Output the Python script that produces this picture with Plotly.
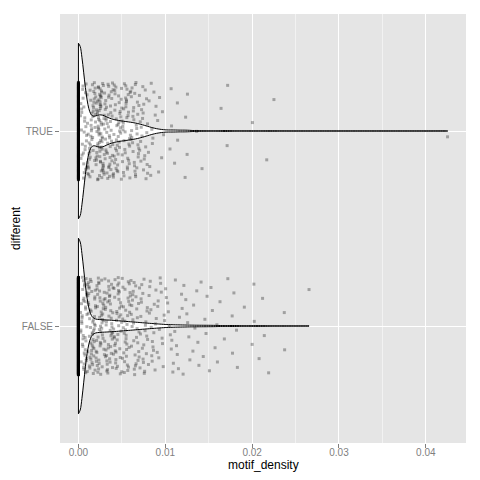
import numpy as np
import plotly.graph_objects as go

# motif_density values, in units of 1e-5
true_zero_count = 480
true_nonzero = [
    23, 57, 81, 34, 96, 62, 45, 88, 71, 29, 53, 94, 67, 38, 76, 49, 85, 61, 27, 92, 58, 73, 41, 99, 66, 84, 36, 79, 52,
    104, 187, 142, 163, 118, 195, 131, 176, 152, 109, 168, 124, 183, 147, 136, 199, 112, 159, 171, 128, 192, 145, 106,
    178, 154, 133, 166, 121, 189, 149, 115, 174, 138, 161, 197, 126, 182, 143, 108, 156, 169, 134, 191,
    203, 248, 271, 226, 294, 215, 259, 237, 282, 208, 264, 231, 289, 253, 219, 276, 242, 297, 211, 268, 234, 286, 257,
    223, 279, 245, 201, 262, 238, 291, 216, 274, 249, 227, 283, 206, 255, 269, 232, 298, 244, 213, 278, 251, 224, 287,
    261, 209, 236, 273, 295, 218, 247, 265, 229, 284, 256, 241,
    221, 233, 246, 252, 258, 263, 239, 244, 228, 267, 254, 249,
    312, 358, 387, 334, 301, 376, 349, 323, 395, 341, 368, 307, 383, 356, 329, 372, 316, 399, 345, 362, 305, 381, 337,
    319, 391, 353, 326, 374, 309, 366, 348, 331, 385, 314, 359, 397, 343, 321, 378, 303, 352, 369, 336, 392, 318, 364, 347,
    408, 453, 481, 427, 496, 442, 415, 469, 437, 402, 488, 456, 421, 474, 433, 499, 447, 412, 465, 428, 491, 458, 404,
    477, 439, 418, 483, 451, 425, 468, 494, 435, 411, 462, 486, 444, 419, 473, 431, 457,
    507, 552, 588, 524, 571, 539, 595, 513, 563, 546, 581, 529, 502, 567, 543, 598, 518, 576, 534, 559, 511, 585, 548,
    526, 592, 557, 504, 573, 537, 564, 521, 589, 545, 516, 578, 553,
    614, 657, 683, 629, 602, 671, 645, 696, 623, 662, 638, 688, 609, 675, 651, 632, 694, 617, 666, 643, 679, 606, 658,
    627, 691, 648, 612, 672, 636, 685, 655,
    712, 758, 784, 731, 796, 745, 705, 769, 723, 791, 752, 716, 778, 738, 763, 702, 787, 749, 727, 774, 741, 795, 719,
    813, 857, 832, 884, 806, 869, 845, 821, 893, 851, 838,
    912, 958, 934, 981, 923, 967,
    1054, 1067, 1072, 1107, 1139, 1142, 1228, 1234, 1251, 1255, 1361, 1423,
    1642, 1712, 1718, 2003, 2168, 2251, 4250,
]

false_zero_count = 950
false_nonzero = [
    31, 74, 52, 88, 43, 67, 95, 28, 59, 81, 46, 71, 37, 92, 63, 55, 84, 24, 78, 49, 97, 66, 35, 86, 58, 41, 75, 93, 27,
    62, 83, 51, 69, 39, 90, 56, 77, 45, 98,
    107, 153, 182, 128, 196, 141, 115, 172, 134, 189, 161, 102, 147, 178, 123, 193, 156, 111, 168, 137, 185, 149, 119,
    174, 131, 198, 158, 104, 165, 143, 187, 126, 171, 113, 152, 194, 139, 163, 117, 181, 146, 129, 176, 108, 159, 191,
    135, 167, 121, 184,
    206, 251, 283, 229, 264, 212, 297, 241, 273, 218, 258, 236, 289, 203, 247, 276, 224, 262, 293, 215, 254, 238, 281,
    209, 267, 244, 299, 221, 258, 232, 286, 249, 213, 271, 235, 294, 226, 256, 279, 204, 243, 268, 217, 291, 252, 233, 275,
    311, 357, 384, 326, 372, 343, 398, 319, 364, 337, 389, 305, 351, 378, 329, 366, 392, 314, 345, 381, 322, 359, 307,
    374, 338, 395, 317, 353, 386, 331, 368, 302, 347, 377, 324, 361, 393, 335, 309, 371, 349, 383, 327, 356,
    413, 458, 487, 432, 471, 405, 449, 493, 426, 465, 438, 481, 417, 454, 499, 441, 476, 409, 463, 428, 485, 446, 421,
    468, 403, 457, 491, 435, 474, 418, 452, 497, 431, 466, 411, 482, 444, 424, 461,
    516, 563, 591, 538, 574, 509, 552, 597, 527, 568, 544, 583, 512, 559, 531, 579, 548, 504, 566, 522, 594, 541, 576,
    518, 557, 586, 533, 507, 571, 549, 528, 589, 554, 536,
    618, 664, 692, 637, 605, 678, 652, 626, 697, 643, 671, 611, 659, 634, 686, 622, 668, 647, 608, 694, 631, 675, 656,
    614, 683, 641, 627, 699, 662,
    714, 762, 789, 736, 703, 771, 748, 725, 796, 755, 718, 782, 741, 767, 709, 793, 752, 729, 776, 744, 721, 786, 758,
    817, 864, 892, 838, 806, 873, 851, 827, 896, 844, 813, 868, 882, 834, 858, 821, 887, 849,
    918, 963, 941, 987, 907, 954, 932, 976, 913, 968, 946, 992, 925,
    1012, 1058, 1087, 1035, 1069, 1004, 1046, 1093, 1027, 1075,
    1116, 1163, 1138, 1187, 1109, 1151, 1194, 1129,
    1214, 1257, 1283, 1236, 1271, 1205, 1248,
    1318, 1362, 1341, 1387, 1326, 1375,
    1412, 1456, 1437, 1481, 1469,
    1508, 1542, 1573, 1526, 1594,
    1600, 1630, 1680, 1720, 1770, 1774, 1790, 1820, 1830, 1910, 2000, 2020, 2024, 2080, 2120, 2140, 2190, 2370, 2374, 2655,
]

categories = ['FALSE', 'TRUE']
x_ticks = [0.0, 0.01, 0.02, 0.03, 0.04]
x_tick_labels = ['0.00', '0.01', '0.02', '0.03', '0.04']

groups = {
    'FALSE': np.array([0.0] * false_zero_count + [v * 1e-5 for v in false_nonzero]),
    'TRUE': np.array([0.0] * true_zero_count + [v * 1e-5 for v in true_nonzero]),
}
positions = {'FALSE': 1, 'TRUE': 2}

FONT = 'Liberation Sans, Arial, sans-serif'
TICK_GREY = '#7F7F7F'

fig = go.Figure()

for name in categories:
    fig.add_trace(go.Violin(
        x=groups[name],
        y0=positions[name],
        name=name,
        orientation='h',
        width=0.9,
        side='both',
        spanmode='hard',
        bandwidth=0.0006,
        scalemode='width',
        fillcolor='white',
        line=dict(color='black', width=1),
        points=False,
        box_visible=False,
        meanline_visible=False,
        hoverinfo='skip',
        showlegend=False,
    ))

# jittered points on top (deterministic vertical jitter, +-0.25)
for name in categories:
    vals = groups[name]
    jitter = (np.arange(len(vals)) * 0.6180339887 % 1 - 0.5) * 0.5
    fig.add_trace(go.Scatter(
        x=vals,
        y=positions[name] + jitter,
        mode='markers',
        marker=dict(symbol='square', size=3, color='rgba(0,0,0,0.3)', line=dict(width=0)),
        hoverinfo='skip',
        showlegend=False,
    ))

# the page body has an 8px default margin, so the figure is 472px square
fig.update_layout(
    template='none',
    width=472,
    height=472,
    margin=dict(l=51.5, r=14, t=6, b=37),
    paper_bgcolor='white',
    plot_bgcolor='#E5E5E5',
    font=dict(family=FONT, size=12, color='black'),
    showlegend=False,
    annotations=[
        dict(text='motif_density', x=0.5, y=0, xref='paper', yref='paper',
             xanchor='center', yanchor='middle', yshift=-22, showarrow=False,
             font=dict(size=12, color='black')),
        dict(text='different', x=0, y=0.5, xref='paper', yref='paper', textangle=-90,
             xanchor='center', yanchor='middle', xshift=-44.5, showarrow=False,
             font=dict(size=12, color='black')),
    ],
)

fig.update_xaxes(
    automargin=False,
    range=[-0.002125, 0.044625],
    tickvals=x_ticks,
    ticktext=x_tick_labels,
    ticks='outside',
    ticklen=4,
    tickwidth=1,
    tickcolor=TICK_GREY,
    tickfont=dict(size=10, color=TICK_GREY),
    ticklabelstandoff=-4,
    showgrid=True,
    gridcolor='white',
    gridwidth=1.2,
    minor=dict(tickvals=[0.005, 0.015, 0.025, 0.035], showgrid=True, gridcolor='#F2F2F2', gridwidth=1, ticks=''),
    zeroline=False,
    showline=False,
)

fig.update_yaxes(
    automargin=False,
    type='linear',
    range=[0.4, 2.6],
    tickvals=[positions[c] for c in categories],
    ticktext=categories,
    ticks='outside',
    ticklen=4,
    tickwidth=1,
    tickcolor=TICK_GREY,
    tickfont=dict(size=10, color=TICK_GREY),
    showgrid=True,
    gridcolor='white',
    gridwidth=1.2,
    zeroline=False,
    showline=False,
)

fig.write_html("out.html")
